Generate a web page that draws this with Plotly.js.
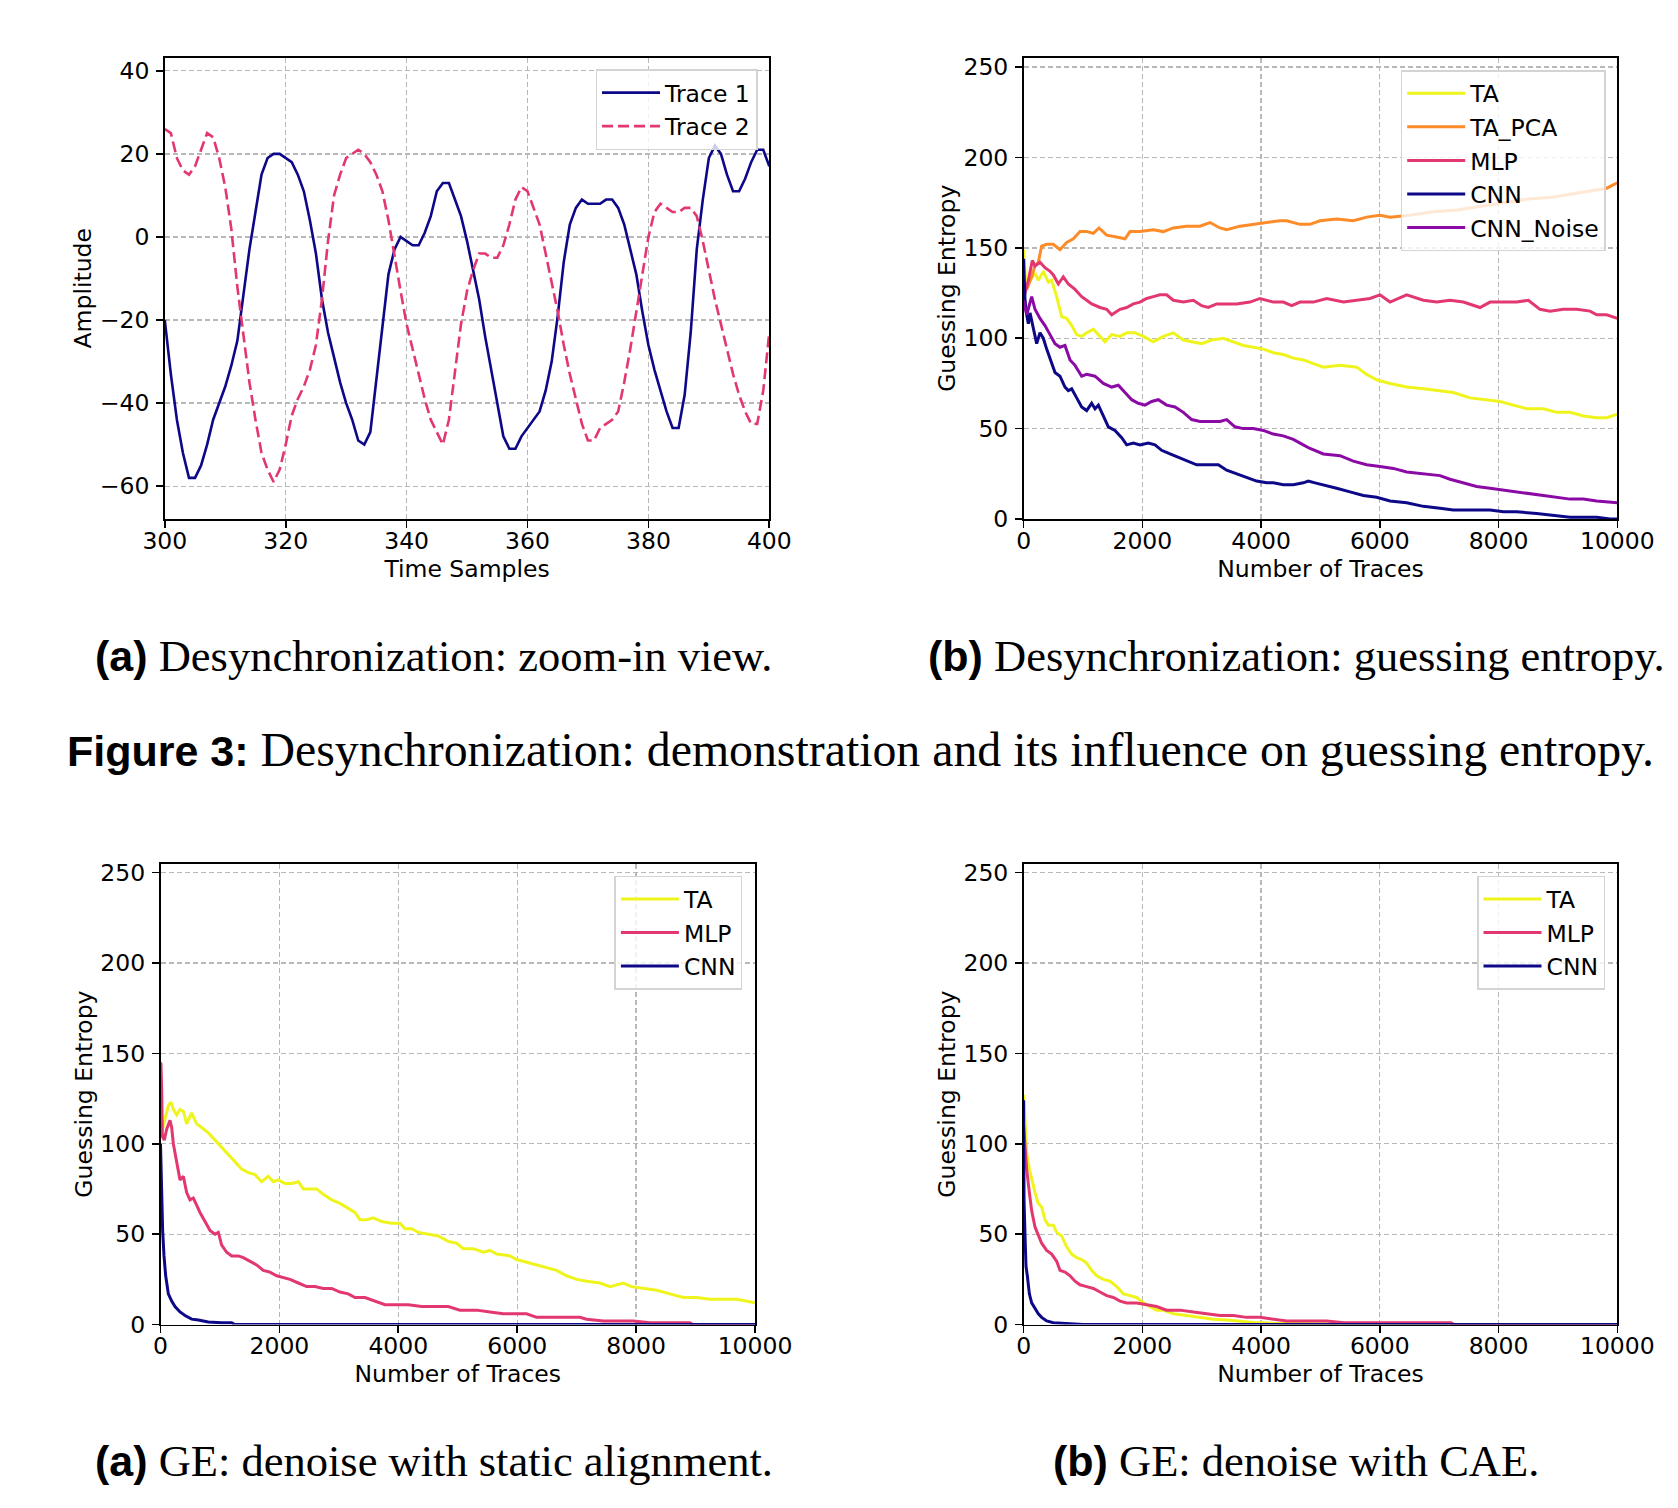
<!DOCTYPE html>
<html>
<head>
<meta charset="utf-8">
<script src="https://cdn.plot.ly/plotly-3.0.1.min.js"></script>
<style>html,body{margin:0;padding:0;background:#fff;}#chart{width:1678px;height:1508px;}</style>
</head>
<body>
<div id="chart"></div>
<script>
// ---------- (a) Desynchronization: zoom-in view ----------
const timeSamples = [300,301,302,303,304,305,306,307,308,309,310,311,312,313,314,315,316,317,318,319,320,321,322,323,324,325,326,327,328,329,330,331,332,333,334,335,336,337,338,339,340,341,342,343,344,345,346,347,348,349,350,351,352,353,354,355,356,357,358,359,360,361,362,363,364,365,366,367,368,369,370,371,372,373,374,375,376,377,378,379,380,381,382,383,384,385,386,387,388,389,390,391,392,393,394,395,396,397,398,399,400];
const trace1 = [-20,-33,-44,-52,-58,-58,-55,-50,-44,-40,-36,-31,-25,-14,-3,6,15,19,20,20,19,18,15,11,4,-4,-15,-23,-29,-35,-40,-44,-49,-50,-47,-34,-21,-9,-3,0,-1,-2,-2,1,5,11,13,13,9,5,-1,-8,-15,-24,-32,-40,-48,-51,-51,-48,-46,-44,-42,-37,-30,-19,-6,3,7,9,8,8,8,9,9,7,3,-3,-9,-18,-26,-32,-37,-42,-46,-46,-38,-23,-3,9,19,22,20,15,11,11,14,18,21,21,17];
const trace2 = [26,25,19,16,15,17,21,25,24,19,12,2,-12,-24,-35,-44,-52,-56,-59,-56,-50,-43,-39,-36,-32,-26,-15,-1,10,15,19,20,21,20,18,15,11,4,-4,-13,-21,-27,-33,-39,-44,-47,-50,-44,-33,-21,-13,-8,-4,-4,-5,-5,-2,3,9,12,11,7,3,-4,-11,-18,-26,-33,-39,-45,-49,-49,-46,-45,-44,-42,-35,-27,-18,-9,0,6,8,7,6,6,7,7,5,-1,-8,-15,-21,-27,-33,-38,-42,-45,-45,-37,-23];

// ---------- (b) Desynchronization: guessing entropy ----------
const bTA_x = [0,40,108,192,248,332,417,473,557,641,725,810,894,978,1062,1175,1259,1371,1483,1624,1736,1876,2017,2185,2353,2522,2690,2859,2999,3167,3364,3532,3701,3869,4038,4206,4374,4543,4711,4880,5049,5329,5610,5778,5947,6172,6452,6733,6958,7238,7519,7800,8025,8249,8474,8755,8979,9204,9428,9653,9821,10000];
const bTA_y = [149,129,132,136,132,137,131,132,123,112,111,107,102,101,103,105,102,98,102,101,103,103,101,98,101,103,99,98,97,99,100,98,96,95,94,92,91,89,88,86,84,85,84,80,77,75,73,72,71,70,67,66,65,63,61,61,59,59,57,56,56,58];
const bPCA_x = [0,52,136,192,248,304,389,500,613,725,838,950,1062,1175,1270,1399,1567,1708,1792,1960,2185,2353,2522,2746,2971,3139,3308,3420,3645,3869,4094,4318,4431,4655,4824,4992,5273,5554,5778,6003,6172,6500,6900,7300,7700,8100,8500,8900,9300,9650,9822,10000];
const bPCA_y = [130,127,134,140,142,151,152,152,149,153,155,159,159,158,161,157,156,155,159,159,160,159,161,162,162,164,161,160,162,163,164,165,165,163,163,165,166,165,167,168,167,168,170,171,173,175,177,178,180,182,183,186];
const bMLP_x = [0,24,80,147,192,276,360,445,501,585,669,754,866,978,1062,1146,1287,1399,1483,1624,1736,1848,1960,2073,2185,2297,2409,2522,2690,2859,2999,3111,3252,3420,3589,3813,3982,4206,4374,4515,4655,4880,5105,5386,5610,5835,6003,6172,6452,6733,6958,7182,7407,7688,7856,8081,8305,8502,8698,8867,9091,9316,9540,9653,9821,10000];
const bMLP_y = [120,125,132,143,140,142,139,137,135,130,134,130,127,123,121,119,117,116,113,116,117,119,120,122,123,124,124,121,120,121,118,117,119,119,119,120,122,120,120,118,120,120,122,120,121,122,124,120,124,121,120,121,120,117,120,120,120,121,116,115,116,116,115,113,113,111];
const bCNN_x = [0,24,52,80,108,164,220,276,332,389,473,529,613,697,754,810,894,978,1062,1146,1203,1259,1343,1427,1539,1652,1736,1848,1960,2101,2213,2325,2466,2606,2746,2915,3083,3280,3420,3589,3757,3925,4094,4206,4374,4543,4711,4796,4908,5049,5273,5498,5722,5947,6172,6452,6733,7014,7238,7519,7856,8081,8305,8642,8923,9204,9428,9653,9877,10000];
const bCNN_y = [144,121,113,108,114,105,97,103,100,94,86,81,79,73,71,72,67,62,60,64,61,63,57,51,49,45,41,42,41,42,41,38,36,34,32,30,30,30,27,25,23,21,20,20,19,19,20,21,20,19,17,15,13,12,10,9,7,6,5,5,5,4,4,3,2,1,1,1,0,0];
const bNoise_x = [0,52,136,192,276,360,445,529,613,697,782,866,978,1062,1203,1343,1483,1596,1708,1820,1932,2045,2157,2269,2409,2550,2690,2831,2971,3139,3308,3420,3560,3701,3869,4038,4206,4374,4543,4711,4824,5049,5329,5554,5778,6003,6228,6452,6733,7014,7182,7407,7631,7856,8081,8305,8530,8755,8979,9204,9428,9653,10000];
const bNoise_y = [121,113,123,116,111,107,102,97,95,96,88,85,79,80,79,75,73,74,70,66,64,63,65,66,63,62,59,55,54,54,54,55,51,50,50,49,47,46,44,41,39,36,35,32,30,29,28,26,25,24,22,20,18,17,16,15,14,13,12,11,11,10,9];

// ---------- (c) GE: denoise with static alignment ----------
const cTA_x = [0,31,76,132,177,216,272,328,384,440,524,608,692,804,917,1029,1141,1253,1365,1477,1589,1701,1813,1898,1982,2094,2206,2318,2402,2514,2626,2738,2879,3019,3159,3271,3355,3467,3579,3720,3888,4028,4112,4224,4336,4504,4672,4841,4981,5093,5261,5430,5542,5654,5878,5990,6214,6439,6663,6831,7000,7167,7392,7560,7784,7924,8120,8345,8569,8793,9017,9241,9466,9690,10000];
const cTA_y = [104,108,114,121,123,119,116,119,118,111,117,111,109,106,102,98,94,90,86,84,83,79,82,79,80,78,78,79,75,75,75,72,69,67,64,62,58,58,59,57,56,56,53,53,51,50,49,46,45,42,42,40,41,39,38,36,34,32,30,27,25,24,23,21,23,21,20,19,17,15,15,14,14,14,12];
const cMLP_x = [0,8,20,31,64,104,160,188,216,272,328,384,440,496,552,608,664,749,833,917,973,1029,1113,1197,1309,1393,1505,1617,1729,1841,1954,2066,2178,2318,2458,2598,2738,2879,3019,3159,3271,3439,3608,3776,3944,4168,4392,4617,4841,5037,5318,5542,5766,6158,6327,6551,6831,7055,7167,7448,7672,7952,8233,8569,8905,8950,10000];
const cMLP_y = [145,144,130,104,102,108,113,109,100,91,80,82,73,69,70,66,62,57,52,50,51,44,40,38,38,37,35,33,30,29,27,26,25,23,21,21,20,20,18,17,15,15,13,11,11,11,10,10,10,8,8,7,6,6,4,4,4,4,3,2,2,2,1,1,1,0,0];
const cCNN_x = [0,20,36,59,87,132,188,244,328,412,524,636,804,1029,1197,1250,10000];
const cCNN_y = [100,71,52,38,27,17,13,10,7,5,3,2.5,1.4,1,1,0,0];

// ---------- (d) GE: denoise with CAE ----------
const dTA_x = [0,24,52,97,136,192,248,304,360,417,501,557,641,725,810,894,978,1062,1146,1231,1343,1455,1568,1680,1792,1904,2017,2129,2241,2353,2522,2746,2971,3196,3420,3645,3869,4206,4543,5000,6000,10000];
const dTA_y = [127,111,95,86,80,73,67,65,58,55,55,51,49,43,39,37,36,34,30,27,25,24,21,17,16,15,12,10,8,8,6,5,4,3,2.5,1.6,1.1,0.7,0.5,0.3,0,0];
const dMLP_x = [0,24,52,97,136,192,248,304,389,473,557,613,697,782,866,950,1062,1175,1287,1399,1511,1624,1736,1904,2073,2241,2409,2634,2859,3083,3308,3532,3757,3982,4206,4431,4767,5104,5400,6000,7200,7250,10000];
const dMLP_y = [110,97,86,73,63,54,49,45,41,39,35,30,29,27,24,22,21,20,18,16,15,13,12,12,11,10,8,8,7,6,5,5,4,4,3,2,2,2,1,1,1,0,0];
const dCNN_x = [0,7,24,41,63,97,136,192,248,304,389,501,669,950,1000,10000];
const dCNN_y = [124,69,49,32,27,17,12,9,6,4,2,1,0.7,0.5,0,0];

// ---------- styles ----------
const C = {TA:'#eff51c', PCA:'#fd8b28', MLP:'#e2376f', CNN:'#0d0887', NOISE:'#8b0aa5'};
const W = 1678, H = 1508;
const LW = 3;
const FS = 23.5;

function tr(x, y, name, color, xa, ya, leg, extra) {
  return Object.assign({
    type:'scatter', mode:'lines', x:x, y:y, name:name,
    xaxis:xa, yaxis:ya, legend:leg, legendgroup:leg+name,
    line:{color:color, width:LW}, hoverinfo:'skip'
  }, extra || {});
}

const data = [
  tr(timeSamples, trace1, 'Trace 1', C.CNN, 'x', 'y', 'legend', {line:{color:C.CNN, width:2.6}}),
  tr(timeSamples, trace2, 'Trace 2', C.MLP, 'x', 'y', 'legend', {line:{color:C.MLP, width:2.6, dash:'11px,5px'}}),

  tr(bTA_x, bTA_y, 'TA', C.TA, 'x2', 'y2', 'legend2'),
  tr(bPCA_x, bPCA_y, 'TA_PCA', C.PCA, 'x2', 'y2', 'legend2'),
  tr(bMLP_x, bMLP_y, 'MLP', C.MLP, 'x2', 'y2', 'legend2'),
  tr(bCNN_x, bCNN_y, 'CNN', C.CNN, 'x2', 'y2', 'legend2'),
  tr(bNoise_x, bNoise_y, 'CNN_Noise', C.NOISE, 'x2', 'y2', 'legend2'),

  tr(cTA_x, cTA_y, 'TA', C.TA, 'x3', 'y3', 'legend3'),
  tr(cMLP_x, cMLP_y, 'MLP', C.MLP, 'x3', 'y3', 'legend3'),
  tr(cCNN_x, cCNN_y, 'CNN', C.CNN, 'x3', 'y3', 'legend3'),

  tr(dTA_x, dTA_y, 'TA', C.TA, 'x4', 'y4', 'legend4'),
  tr(dMLP_x, dMLP_y, 'MLP', C.MLP, 'x4', 'y4', 'legend4'),
  tr(dCNN_x, dCNN_y, 'CNN', C.CNN, 'x4', 'y4', 'legend4')
];

const tickFont = {family:'DejaVu Sans', size:FS, color:'#000'};
function ax(domainPx, range, dtick, title, isY, anchor) {
  const dom = isY ? [1 - domainPx[1]/H, 1 - domainPx[0]/H] : [domainPx[0]/W, domainPx[1]/W];
  return {
    domain: dom, range: range, dtick: dtick, tick0: 0, anchor: anchor,
    showline:true, mirror:true, linecolor:'#000', linewidth:1.6,
    ticks:'outside', ticklen:7, tickwidth:1.6, tickcolor:'#000',
    tickfont: tickFont, tickformat:'d', ticklabelstandoff: isY ? 2 : -7,
    showgrid:true, gridcolor:'#b8b8b8', gridwidth:1.3, griddash:'5px,3px',
    zeroline:false, automargin:false, fixedrange:true,
    title:{text:title, font:{family:'DejaVu Sans', size:FS, color:'#000'}, standoff: isY ? 1 : 6}
  };
}

const topY = [57.5, 519];
const botY = [863.6, 1324.6];
const legBase = {
  font:{family:'DejaVu Sans', size:FS, color:'#000'},
  bgcolor:'rgba(255,255,255,0.8)', bordercolor:'#d4d4d4', borderwidth:1.5,
  xref:'paper', yref:'paper', xanchor:'right', yanchor:'top',
  tracegroupgap:9, itemwidth:58, traceorder:'normal'
};
function leg(xr, yt) { return Object.assign({}, legBase, {x: xr/W, y: 1 - yt/H}); }

const capFont = {family:'Liberation Serif', size:44.5, color:'#000'};
function lab(t){ return '<span style="font-family:Liberation Sans;font-weight:bold;font-size:43px">' + t + '</span>'; }
function cap(text, xc, yc, size) {
  return {text:text, x:xc/W, y:1-yc/H, xref:'paper', yref:'paper', xanchor:'center', yanchor:'middle', showarrow:false,
          font:Object.assign({}, capFont, size ? {size:size} : {})};
}

const layout = {
  width: W, height: H, margin:{l:0, r:0, t:0, b:0},
  paper_bgcolor:'#fff', plot_bgcolor:'#fff', showlegend:true,
  xaxis:  ax([164.8, 769.3], [300, 400], 20, 'Time Samples', false, 'y'),
  yaxis:  ax(topY, [-67.9, 43.2], 20, 'Amplitude', true, 'x'),
  xaxis2: ax([1023.6, 1617.3], [0, 10000], 2000, 'Number of Traces', false, 'y2'),
  yaxis2: ax(topY, [0, 255.3], 50, 'Guessing Entropy', true, 'x2'),
  xaxis3: ax([160.5, 755], [0, 10000], 2000, 'Number of Traces', false, 'y3'),
  yaxis3: ax(botY, [0, 254.9], 50, 'Guessing Entropy', true, 'x3'),
  xaxis4: ax([1023.6, 1617.3], [0, 10000], 2000, 'Number of Traces', false, 'y4'),
  yaxis4: ax(botY, [0, 254.9], 50, 'Guessing Entropy', true, 'x4'),
  legend:  leg(757.5, 69.3),
  legend2: leg(1605.7, 70),
  legend3: leg(742.4, 875.7),
  legend4: leg(1605, 875.7),
  annotations: [
    cap(lab('(a)') + ' Desynchronization: zoom-in view.', 433, 656),
    cap(lab('(b)') + ' Desynchronization: guessing entropy.', 1296, 656),
    cap(lab('Figure 3:') + ' Desynchronization: demonstration and its influence on guessing entropy.', 860, 749, 47.8),
    cap(lab('(a)') + ' GE: denoise with static alignment.', 434, 1461),
    cap(lab('(b)') + ' GE: denoise with CAE.', 1296, 1461)
  ]
};

Plotly.newPlot('chart', data, layout, {staticPlot:true, displayModeBar:false});
</script>
</body>
</html>
